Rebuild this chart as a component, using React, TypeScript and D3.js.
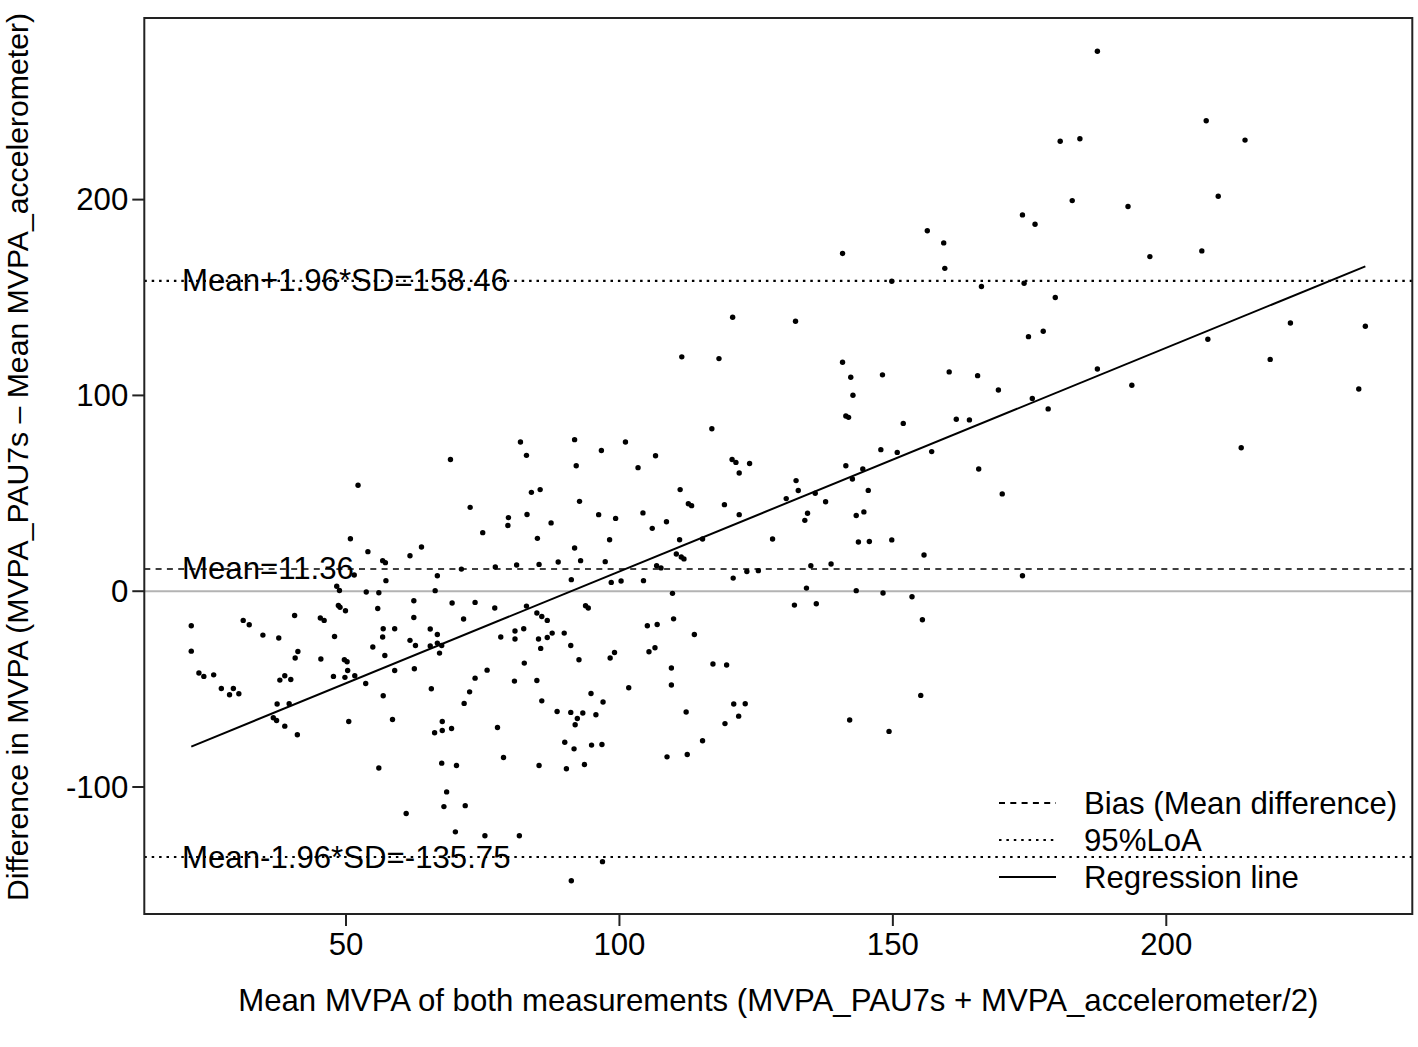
import React from "react";
import * as d3 from "d3";

// Bland-Altman data: mean of both measurements (x) and difference (y)
const meanVals: number[] = [
  52.2, 50.8, 54.0, 56.7, 57.2, 61.7, 57.3, 51.5, 48.3, 48.8,
  53.7, 56.0, 48.6, 49.9, 55.8, 62.4, 62.4, 21.7, 31.2, 32.3,
  40.6, 45.3, 46.0, 34.8, 37.7, 47.9, 56.8, 58.9, 56.7, 61.7,
  21.7, 41.2, 40.7, 45.4, 49.7, 50.2, 50.3, 54.9, 57.1, 58.9,
  62.7, 62.5, 23.1, 24.0, 25.8, 37.9, 38.8, 39.9, 47.7, 49.8,
  51.6, 53.6, 56.8, 27.2, 29.4, 28.7, 30.4, 48.9, 37.4, 39.6,
  36.7, 37.3, 38.8, 41.1, 50.5, 58.5, 56.0, 61.0, 69.1, 81.9,
  83.0, 91.8, 92.1, 96.7, 101.1, 103.4, 106.6, 72.7, 83.9, 85.5,
  92.7, 75.0, 79.7, 79.6, 83.1, 87.5, 85.0, 96.2, 99.3, 104.3,
  106.0, 98.2, 91.8, 63.8, 71.1, 77.3, 81.2, 85.3, 88.8, 92.9,
  97.4, 106.8, 66.7, 66.3, 91.2, 98.5, 100.3, 104.4, 69.4, 73.6,
  77.2, 83.0, 93.8, 94.3, 71.5, 84.9, 85.8, 86.8, 65.4, 66.7,
  80.9, 82.5, 87.7, 89.9, 105.1, 106.9, 78.3, 80.9, 85.2, 86.8,
  65.4, 66.7, 67.5, 91.1, 85.6, 67.1, 92.6, 98.3, 99.1, 105.4,
  106.5, 82.6, 75.8, 73.6, 80.8, 84.9, 65.6, 72.6, 71.6, 85.8,
  101.7, 94.8, 97.0, 88.6, 91.1, 93.3, 92.3, 91.9, 95.7, 67.6,
  66.2, 67.6, 69.3, 77.7, 78.8, 90.0, 91.7, 94.9, 96.8, 67.5,
  70.2, 85.3, 90.3, 93.6, 68.4, 67.9, 71.8, 70.0, 75.4, 81.7,
  96.9, 91.2, 120.7, 132.2, 111.4, 118.2, 140.8, 142.3, 142.7, 141.4,
  141.9, 148.1, 116.9, 120.6, 121.3, 123.8, 121.9, 147.8, 150.8, 141.4,
  144.5, 142.6, 132.3, 132.7, 135.8, 145.5, 111.1, 112.6, 113.2, 119.2,
  130.5, 137.7, 121.9, 134.4, 133.9, 143.3, 144.7, 108.6, 111.0, 115.2,
  128.0, 143.7, 145.7, 149.8, 110.4, 111.3, 111.8, 107.6, 120.8, 123.3,
  125.4, 135.0, 138.7, 134.2, 143.3, 148.2, 109.7, 132.0, 136.0, 109.9,
  113.7, 109.5, 109.5, 117.1, 119.6, 112.2, 120.9, 123.0, 121.8, 119.3,
  115.2, 108.7, 112.4, 142.1, 149.3, 182.8, 193.0, 173.7, 176.0, 156.3,
  159.3, 159.5, 149.8, 166.2, 174.0, 179.7, 197.0, 174.8, 177.5, 160.3,
  165.5, 169.3, 187.4, 193.7, 175.5, 178.4, 151.9, 161.6, 164.0, 157.1,
  165.7, 170.0, 155.7, 173.7, 153.5, 155.4, 155.1, 207.3, 214.4, 209.5,
  206.5, 222.7, 236.4, 207.6, 219.0, 235.2, 213.7, 187.4, 180.6, 184.2,
  140.8,
];

const diffVals: number[] = [
  54.1, 26.8, 20.2, 15.6, 14.6, 18.1, 5.4, 8.3, 2.5, 0.4,
  -0.4, -0.8, -7.3, -10.0, -8.8, -4.9, -13.4, -17.6, -14.9, -17.1,
  -12.4, -13.7, -14.9, -22.4, -23.9, -23.1, -19.2, -19.2, -23.4, -25.1,
  -30.6, -30.8, -34.1, -34.6, -35.0, -36.0, -40.5, -28.5, -32.8, -40.5,
  -27.7, -39.6, -41.8, -43.5, -42.7, -45.4, -43.2, -45.1, -43.5, -44.0,
  -43.2, -47.1, -53.4, -49.7, -49.7, -52.9, -52.4, -8.2, -57.6, -57.5,
  -64.6, -66.0, -68.9, -73.3, -66.5, -65.5, -90.3, -113.5, 67.3, 76.2,
  69.4, 77.4, 64.1, 71.9, 76.2, 63.1, 69.2, 42.8, 50.5, 51.9,
  45.9, 29.9, 37.6, 33.6, 39.2, 34.9, 27.0, 39.1, 37.2, 40.0,
  32.1, 26.3, 22.1, 22.6, 11.3, 12.4, 13.4, 13.7, 14.9, 15.6,
  15.1, 13.0, 7.9, 0.3, 5.9, 4.5, 5.2, 5.4, -6.0, -5.7,
  -8.6, -7.6, -7.4, -8.6, -14.2, -11.1, -12.9, -14.9, -19.3, -22.1,
  -20.3, -19.2, -21.4, -21.4, -17.6, -17.0, -23.4, -24.4, -24.4, -23.6,
  -28.0, -26.5, -27.7, -27.7, -29.2, -31.6, -35.0, -34.1, -31.3, -30.9,
  -28.9, -36.7, -40.3, -44.4, -45.9, -45.6, -49.8, -51.4, -57.3, -56.0,
  -49.3, -52.2, -56.6, -61.4, -61.9, -62.2, -65.0, -68.2, -63.1, -66.5,
  -72.3, -71.1, -70.1, -69.6, -84.9, -77.1, -80.5, -78.6, -78.3, -87.8,
  -89.0, -89.0, -90.7, -88.5, -102.5, -110.0, -109.5, -122.9, -124.9, -124.9,
  -138.1, -147.9, 139.9, 137.9, 119.7, 118.8, 116.9, 109.3, 100.1, 89.5,
  88.8, 110.5, 83.0, 67.3, 65.8, 65.2, 60.4, 72.3, 70.9, 64.1,
  62.4, 57.3, 56.5, 51.4, 50.0, 51.5, 51.9, 44.7, 43.7, 44.2,
  47.3, 45.7, 39.1, 39.8, 36.2, 38.7, 40.5, 35.5, 26.3, 26.7,
  26.7, 25.1, 25.4, 26.2, 19.0, 17.5, 16.5, 11.9, 6.7, 10.1,
  10.5, 13.0, 13.9, 1.6, 0.3, -0.9, -1.1, -7.1, -6.4, -14.1,
  -22.1, -39.2, -47.9, -37.2, -37.7, -61.7, -57.6, -57.5, -63.8, -67.6,
  -76.4, -84.6, -83.4, -65.8, -71.6, 199.5, 196.5, 192.2, 187.4, 184.1,
  177.9, 164.9, 158.3, 155.6, 157.3, 150.0, 170.9, 130.0, 132.8, 112.0,
  110.1, 102.8, 113.5, 105.2, 98.4, 93.1, 85.7, 87.8, 87.5, 71.3,
  62.4, 49.7, 18.5, 7.9, -2.8, -14.6, -53.2, 240.3, 230.4, 201.7,
  173.8, 137.0, 135.3, 128.7, 118.4, 103.3, 73.3, 275.8, 229.8, 231.1,
  172.5,
];

const xTicks: number[] = [50, 100, 150, 200];
const yTicks: number[] = [-100, 0, 100, 200];

const biasValue = 11.36;
const upperLoA = 158.46;
const lowerLoA = -135.75;
const regIntercept = -104.13;
const regSlope = 1.1423;

const meanLabels: string[] = [
  "Mean+1.96*SD=158.46",
  "Mean=11.36",
  "Mean-1.96*SD=-135.75",
];
const meanLabelValues: number[] = [upperLoA, biasValue, lowerLoA];

const legendLabels: string[] = ["Bias (Mean difference)", "95%LoA", "Regression line"];
const legendDash: string[] = ["6,5.3", "2.5,4.9", "none"];

const xTitle = "Mean MVPA of both measurements (MVPA_PAU7s + MVPA_accelerometer/2)";
const yTitle = "Difference in MVPA (MVPA_PAU7s \u2013 Mean MVPA_accelerometer)";

export default function App() {
  const W = 1418;
  const H = 1047;
  const left = 144.3;
  const right = 1412.3;
  const top = 18;
  const bottom = 914;
  const font = "'Liberation Sans', Arial, Helvetica, sans-serif";
  const fs = 31.2;
  const tick = 12;

  const xExt = d3.extent(meanVals) as [number, number];
  const yExt = d3.extent(diffVals) as [number, number];
  const xPad = (xExt[1] - xExt[0]) * 0.04;
  const yPad = (yExt[1] - yExt[0]) * 0.04;

  const x = d3.scaleLinear().domain([xExt[0] - xPad, xExt[1] + xPad]).range([left, right]);
  const y = d3.scaleLinear().domain([yExt[0] - yPad, yExt[1] + yPad]).range([bottom, top]);

  const regLine = d3.line<number>()
    .x((d) => x(d))
    .y((d) => y(regIntercept + regSlope * d));

  const hline = (v: number) => ({ x1: left, x2: right, y1: y(v), y2: y(v) });

  const legX1 = 999;
  const legX2 = 1056;
  const legTextX = 1084;
  const legY = [803, 840, 877];

  return (
    <svg
      width={W}
      height={H}
      style={{ position: "absolute", left: 0, top: 0, background: "#fff" }}
      fontFamily={font}
    >
      <rect x={0} y={0} width={W} height={H} fill="#fff" />
      <defs>
        <clipPath id="plotclip">
          <rect x={left} y={top} width={right - left} height={bottom - top} />
        </clipPath>
      </defs>

      <g clipPath="url(#plotclip)">
        <line {...hline(0)} stroke="#b3b3b3" strokeWidth={2} />
        <line {...hline(biasValue)} stroke="#000" strokeWidth={1.6} strokeDasharray="6,5.3" />
        <line {...hline(upperLoA)} stroke="#000" strokeWidth={2.2} strokeDasharray="2.5,4.9" />
        <line {...hline(lowerLoA)} stroke="#000" strokeWidth={2.2} strokeDasharray="2.5,4.9" />
        <path d={regLine(xExt) || ""} fill="none" stroke="#000" strokeWidth={2} />
        {meanVals.map((mv, i) => (
          <circle key={i} cx={x(mv)} cy={y(diffVals[i])} r={2.7} fill="#000" />
        ))}
      </g>

      {meanLabels.map((t, i) => (
        <text
          key={t}
          x={182}
          y={y(meanLabelValues[i])}
          fontSize={fs}
          dominantBaseline="central"
          fill="#000"
        >
          {t}
        </text>
      ))}

      <rect x={left} y={top} width={right - left} height={bottom - top} fill="none" stroke="#222" strokeWidth={2} />

      {xTicks.map((t) => (
        <g key={t}>
          <line x1={x(t)} x2={x(t)} y1={bottom} y2={bottom + tick} stroke="#222" strokeWidth={2} />
          <text x={x(t)} y={bottom + 30} fontSize={fs} textAnchor="middle" dominantBaseline="central">
            {t}
          </text>
        </g>
      ))}
      {yTicks.map((t) => (
        <g key={t}>
          <line x1={left - tick} x2={left} y1={y(t)} y2={y(t)} stroke="#222" strokeWidth={2} />
          <text x={left - 16} y={y(t)} fontSize={fs} textAnchor="end" dominantBaseline="central">
            {t}
          </text>
        </g>
      ))}

      <text x={(left + right) / 2} y={1000} fontSize={fs} textAnchor="middle" dominantBaseline="central">
        {xTitle}
      </text>
      <text
        transform={`translate(17, 457) rotate(-90)`}
        fontSize={30.2}
        textAnchor="middle"
        dominantBaseline="central"
      >
        {yTitle}
      </text>

      {legendLabels.map((t, i) => (
        <g key={t}>
          <line
            x1={legX1}
            x2={legX2}
            y1={legY[i]}
            y2={legY[i]}
            stroke="#000"
            strokeWidth={i === 1 ? 2.2 : 1.8}
            strokeDasharray={legendDash[i]}
          />
          <text x={legTextX} y={legY[i]} fontSize={fs} dominantBaseline="central">
            {t}
          </text>
        </g>
      ))}
    </svg>
  );
}
